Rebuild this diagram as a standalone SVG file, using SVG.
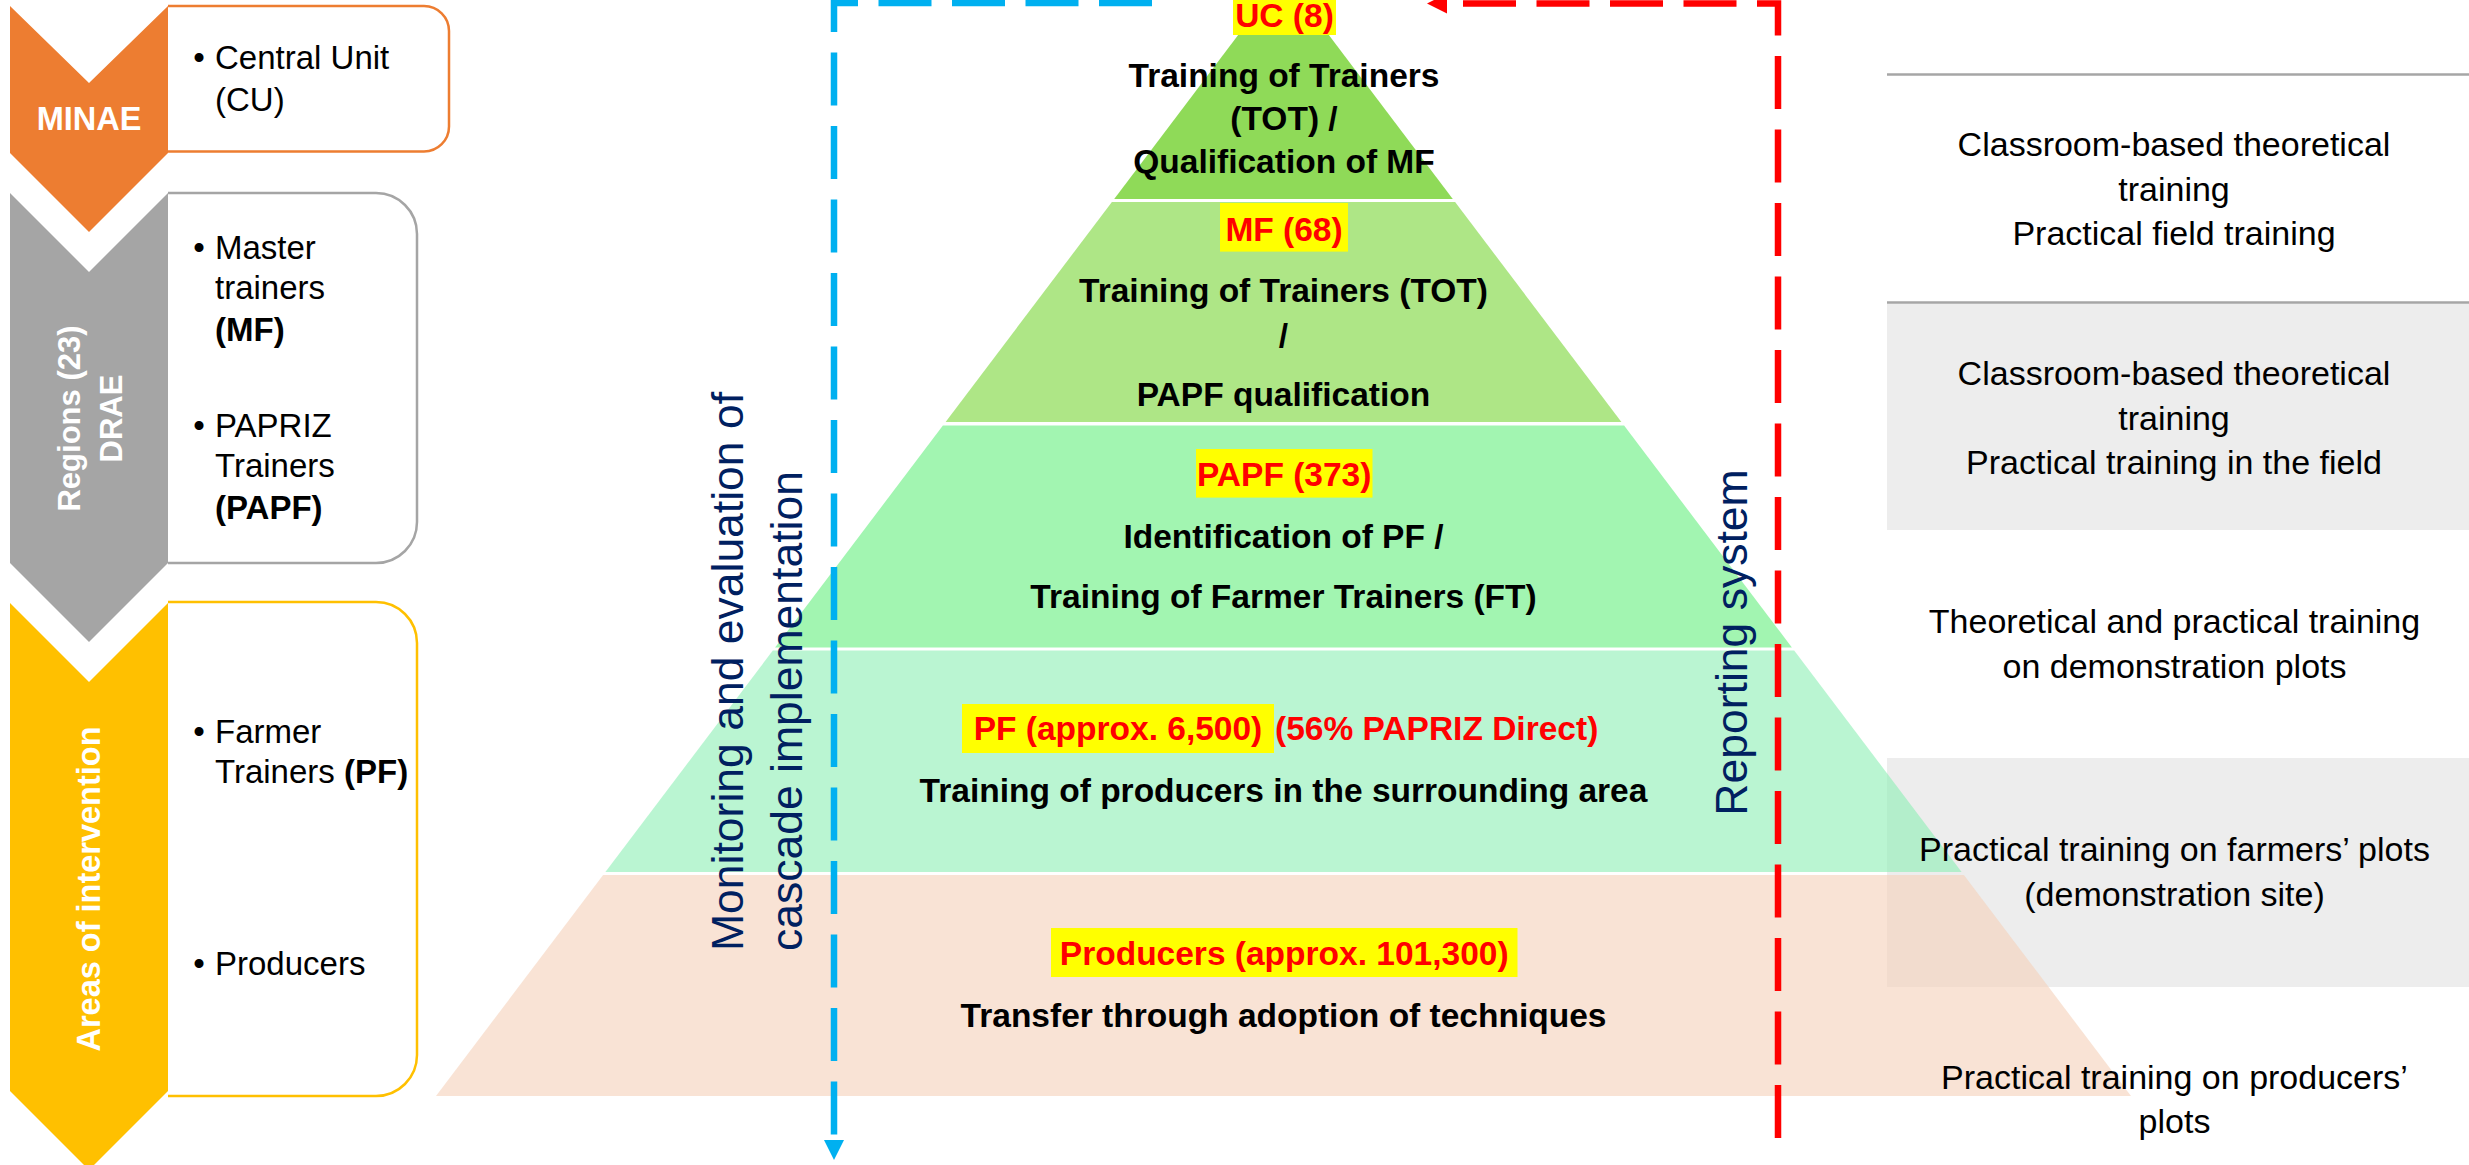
<svg xmlns="http://www.w3.org/2000/svg" width="2469" height="1165" viewBox="0 0 2469 1165">
<defs>
<style>
text{font-family:"Liberation Sans",Arial,sans-serif;}
.box{font-size:33px;fill:#000;}
.chev{font-weight:bold;fill:#fff;}
.pyr{font-size:33.5px;font-weight:bold;fill:#000;text-anchor:middle;}
.hl{font-size:33.5px;font-weight:bold;fill:#FF0000;text-anchor:middle;}
.hls{font-size:33.5px;font-weight:bold;fill:#FF0000;text-anchor:start;}
.hlbg{fill:#FFFF00;}
.side{font-size:44.5px;fill:#002060;}
.right{font-size:34px;fill:#000;text-anchor:middle;}
.gray{fill:#EDEDED;}
.rule{stroke:#A6A6A6;stroke-width:2.5;}
.dash{fill:none;stroke-width:6.5;stroke-dasharray:53 20.5;}
</style>
<marker id="ahBlue" viewBox="0 0 20 20" markerUnits="userSpaceOnUse" markerWidth="20" markerHeight="20" refX="0" refY="10" orient="auto">
<path d="M0,0 L20,10 L0,20 Z" fill="#00B0F0"/>
</marker>
<marker id="ahRed" viewBox="0 0 20 20" markerUnits="userSpaceOnUse" markerWidth="20" markerHeight="20" refX="0" refY="10" orient="auto">
<path d="M0,0 L20,10 L0,20 Z" fill="#FF0000"/>
</marker>
</defs>
<rect x="0" y="0" width="2469" height="1165" fill="#fff"/>

<!-- Left column -->
<g id="minae">
<path d="M168,6 H424 A25,25 0 0 1 449,31 V126.5 A25,25 0 0 1 424,151.5 H168" fill="#fff" stroke="#ED7D31" stroke-width="2.5"/>
<path d="M10,6 L89,83 L168,6 V153 L89,232 L10,153 Z" fill="#ED7D31"/>
<text class="chev" x="89" y="130" font-size="32.5" text-anchor="middle">MINAE</text>
<text class="box" x="199" y="69" text-anchor="middle">•</text>
<text class="box" x="215" y="69">Central Unit</text>
<text class="box" x="215" y="111">(CU)</text>
</g>

<g id="regions">
<path d="M168,193 H376 A41,41 0 0 1 417,234 V522 A41,41 0 0 1 376,563 H168" fill="#fff" stroke="#A5A5A5" stroke-width="2.5"/>
<path d="M10,193 L89,272 L168,193 V563 L89,642 L10,563 Z" fill="#A5A5A5"/>
<text class="chev" font-size="31" text-anchor="middle" transform="translate(80,418.5) rotate(-90)">Regions (23)</text>
<text class="chev" font-size="31" text-anchor="middle" transform="translate(122,418.5) rotate(-90)">DRAE</text>
<text class="box" x="199" y="259" text-anchor="middle">•</text>
<text class="box" x="215" y="259">Master</text>
<text class="box" x="215" y="299">trainers</text>
<text class="box" x="215" y="341" font-weight="bold">(MF)</text>
<text class="box" x="199" y="437" text-anchor="middle">•</text>
<text class="box" x="215" y="437">PAPRIZ</text>
<text class="box" x="215" y="477">Trainers</text>
<text class="box" x="215" y="519" font-weight="bold">(PAPF)</text>
</g>

<g id="areas">
<path d="M168,602 H376 A41,41 0 0 1 417,643 V1055 A41,41 0 0 1 376,1096 H168" fill="#fff" stroke="#FFC000" stroke-width="2.5"/>
<path d="M10,603 L89,682 L168,603 V1091 L89,1170 L10,1091 Z" fill="#FFC000"/>
<text class="chev" font-size="32.5" text-anchor="middle" transform="translate(100,889) rotate(-90)">Areas of intervention</text>
<text class="box" x="199" y="743" text-anchor="middle">•</text>
<text class="box" x="215" y="743">Farmer</text>
<text class="box" x="215" y="783">Trainers <tspan font-weight="bold">(PF)</tspan></text>
<text class="box" x="199" y="975" text-anchor="middle">•</text>
<text class="box" x="215" y="975">Producers</text>
</g>

<!-- Right column backgrounds -->
<g id="right-backgrounds">
<rect class="gray" x="1887" y="303.5" width="582" height="226.5"/>
<rect class="gray" x="1887" y="758" width="582" height="229"/>
<line class="rule" x1="1887" y1="74.6" x2="2469" y2="74.6"/>
<line class="rule" x1="1887" y1="302.5" x2="2469" y2="302.5"/>
</g>

<!-- Pyramid -->
<g id="level-uc">
<polygon points="1283.5,-25 1452.8,199 1114.2,199" fill="#8FDA58"/>
<rect class="hlbg" x="1233" y="0" width="103" height="35"/>
<text class="hl" x="1284.5" y="27">UC (8)</text>
<text class="pyr" x="1284" y="87">Training of Trainers</text>
<text class="pyr" x="1284" y="130">(TOT) /</text>
<text class="pyr" x="1284" y="173">Qualification of MF</text>
</g>

<g id="level-mf">
<polygon points="1111.9,202 1455.1,202 1621.4,422 945.6,422" fill="#AEE686"/>
<rect class="hlbg" x="1220" y="203" width="128" height="48.6"/>
<text class="hl" x="1284" y="241">MF (68)</text>
<text class="pyr" x="1283.5" y="301.7">Training of Trainers (TOT)</text>
<text class="pyr" x="1283.5" y="347">/</text>
<text class="pyr" x="1283.5" y="405.8">PAPF qualification</text>
</g>

<g id="level-papf">
<polygon points="942.9,425.5 1624.1,425.5 1791.9,647.5 775.1,647.5" fill="#A2F5B1"/>
<rect class="hlbg" x="1196" y="449" width="176.5" height="48.6"/>
<text class="hl" x="1284.2" y="486">PAPF (373)</text>
<text class="pyr" x="1283.5" y="548">Identification of PF /</text>
<text class="pyr" x="1283.5" y="608">Training of Farmer Trainers (FT)</text>
</g>

<g id="level-pf">
<polygon points="772.8,650.5 1794.2,650.5 1961.6,872 605.4,872" fill="#8CEEB4" fill-opacity="0.6"/>
<rect class="hlbg" x="962" y="704" width="312" height="49"/>
<text class="hl" x="1118" y="740">PF (approx. 6,500)</text>
<text class="hls" x="1275" y="740">(56% PAPRIZ Direct)</text>
<text class="pyr" x="1283.5" y="802">Training of producers in the surrounding area</text>
</g>

<g id="level-producers">
<polygon points="603.1,875 1963.9,875 2131,1096 436,1096" fill="#F5D0B9" fill-opacity="0.6"/>
<rect class="hlbg" x="1051" y="928" width="466.5" height="49"/>
<text class="hl" x="1284.2" y="965">Producers (approx. 101,300)</text>
<text class="pyr" x="1283.5" y="1027">Transfer through adoption of techniques</text>
</g>

<!-- Connectors -->
<g id="connectors">
<path class="dash" d="M1152,3 H834 V1140" stroke="#00B0F0" marker-end="url(#ahBlue)"/>
<path class="dash" d="M1778,1138 V3.5 H1447" stroke="#FF0000" marker-end="url(#ahRed)"/>
</g>

<g id="monitoring-label">
<text class="side" transform="translate(743,951) rotate(-90)">Monitoring and evaluation of</text>
<text class="side" transform="translate(801.7,951) rotate(-90)">cascade implementation</text>
</g>

<g id="reporting-label">
<text class="side" text-anchor="middle" transform="translate(1747,642.5) rotate(-90)">Reporting system</text>
</g>

<!-- Right column texts -->
<g id="row-uc">
<text class="right" x="2174" y="156">Classroom-based theoretical</text>
<text class="right" x="2174" y="200.5">training</text>
<text class="right" x="2174" y="245">Practical field training</text>
</g>
<g id="row-mf">
<text class="right" x="2174" y="385">Classroom-based theoretical</text>
<text class="right" x="2174" y="429.5">training</text>
<text class="right" x="2174" y="474">Practical training in the field</text>
</g>
<g id="row-papf">
<text class="right" x="2174.5" y="633">Theoretical and practical training</text>
<text class="right" x="2174.5" y="678">on demonstration plots</text>
</g>
<g id="row-pf">
<text class="right" x="2174.5" y="861">Practical training on farmers’ plots</text>
<text class="right" x="2174.5" y="905.6">(demonstration site)</text>
</g>
<g id="row-producers">
<text class="right" x="2174.5" y="1089">Practical training on producers’</text>
<text class="right" x="2174.5" y="1133">plots</text>
</g>
</svg>
